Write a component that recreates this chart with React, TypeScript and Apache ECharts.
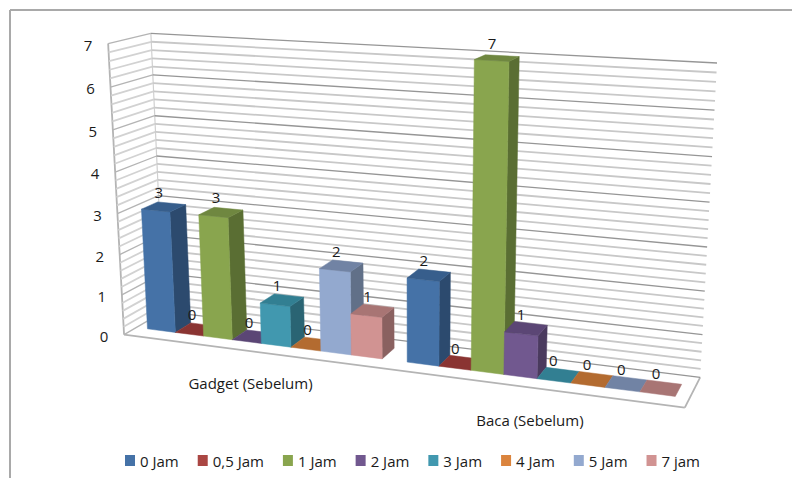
import React, { useEffect, useRef } from "react";
import * as echarts from "echarts";

const categories = ["Gadget (Sebelum)", "Baca (Sebelum)"];
const seriesNames = ["0 Jam", "0,5 Jam", "1 Jam", "2 Jam", "3 Jam", "4 Jam", "5 Jam", "7 jam"];
const jam0 = [3, 2];
const jam05 = [0, 0];
const jam1 = [3, 7];
const jam2 = [0, 1];
const jam3 = [1, 0];
const jam4 = [0, 0];
const jam5 = [2, 0];
const jam7 = [1, 0];
const seriesValues = [jam0, jam05, jam1, jam2, jam3, jam4, jam5, jam7];
const tickLabels = ["0", "1", "2", "3", "4", "5", "6", "7"];

const frontColors = ["#4572A7", "#AA4643", "#89A54E", "#71588F", "#4198AF", "#DB843D", "#93A9CF", "#D19392"];
const sideColors = ["#2C4A6E", "#70302E", "#5A6E33", "#4A3A5E", "#2A6473", "#915828", "#617088", "#8A6160"];
const topColors = ["#375E8C", "#8A3432", "#6F8740", "#5B4675", "#327F92", "#B36B30", "#7183A4", "#A87574"];

const FONT = "'Open Sans', Lato, sans-serif";
const GAP_BARS = 0.8; // gap between clusters, in bar widths
const BAR_FRONT = 0.3;
const BAR_BACK = 0.7;
const MINOR_PER_MAJOR = 5;

// Camera: corners of the unit box (x, value, depth) and where they land on the page.
const boxCorners: number[][] = [
  [0, 0, 0, 124, 334],
  [1, 0, 0, 685, 408],
  [0, 0, 1, 164, 312],
  [1, 0, 1, 700, 377],
  [0, 1, 0, 108, 44],
  [0, 1, 1, 151, 33],
  [1, 1, 1, 717, 63],
];

function solveCamera(): number[] {
  const rows: number[][] = [];
  const rhs: number[] = [];
  for (const [x, y, z, u, v] of boxCorners) {
    rows.push([x, y, z, 1, 0, 0, 0, 0, -u * x, -u * y, -u * z]);
    rhs.push(u);
    rows.push([0, 0, 0, 0, x, y, z, 1, -v * x, -v * y, -v * z]);
    rhs.push(v);
  }
  const n = 11;
  const m: number[][] = [];
  for (let i = 0; i < n; i++) {
    const row: number[] = [];
    for (let j = 0; j < n; j++) row.push(rows.reduce((s, r) => s + r[i] * r[j], 0));
    row.push(rows.reduce((s, r, k) => s + r[i] * rhs[k], 0));
    m.push(row);
  }
  for (let c = 0; c < n; c++) {
    let p = c;
    for (let r = c + 1; r < n; r++) if (Math.abs(m[r][c]) > Math.abs(m[p][c])) p = r;
    [m[c], m[p]] = [m[p], m[c]];
    for (let r = 0; r < n; r++) {
      if (r === c) continue;
      const f = m[r][c] / m[c][c];
      for (let k = c; k <= n; k++) m[r][k] -= f * m[c][k];
    }
  }
  return m.map((r, i) => r[n] / r[i]);
}

const cam = solveCamera();
function project(x: number, y: number, z: number): [number, number] {
  const w = cam[8] * x + cam[9] * y + cam[10] * z + 1;
  return [
    (cam[0] * x + cam[1] * y + cam[2] * z + cam[3]) / w,
    (cam[4] * x + cam[5] * y + cam[6] * z + cam[7]) / w,
  ];
}

const poly = (pts: [number, number][], fill: string) => ({
  type: "polygon",
  shape: { points: pts },
  style: { fill, stroke: fill, lineWidth: 0.5 },
});
const seg = (a: [number, number], b: [number, number], stroke: string, lineWidth: number) => ({
  type: "line",
  shape: { x1: a[0], y1: a[1], x2: b[0], y2: b[1] },
  style: { stroke, lineWidth },
});
const label = (text: string, x: number, y: number) => ({
  type: "text",
  z2: 50,
  style: { text, x, y, fill: "#1a1a1a", font: `15px ${FONT}`, align: "center", verticalAlign: "middle" },
});

// Normalised height of a value on the hidden cartesian grid.
function heightOf(api: any, params: any, value: number) {
  const c = params.coordSys;
  return (c.y + c.height - api.coord([0, value])[1]) / c.height;
}

function renderBar(index: number) {
  return (params: any, api: any) => {
    const c = params.coordSys;
    const band = api.size([1, 0])[0];
    const barW = band / (seriesNames.length + GAP_BARS);
    const value = api.value(1);
    const cx = api.coord([api.value(0), 0])[0];
    const x0 = (cx + (index - seriesNames.length / 2) * barW - c.x) / c.width;
    const x1 = x0 + barW / c.width;
    const h = heightOf(api, params, value);
    const children: any[] = [];
    if (value > 0) {
      children.push(
        poly(
          [project(x1, 0, BAR_FRONT), project(x1, 0, BAR_BACK), project(x1, h, BAR_BACK), project(x1, h, BAR_FRONT)],
          sideColors[index],
        ),
        poly(
          [project(x0, 0, BAR_FRONT), project(x1, 0, BAR_FRONT), project(x1, h, BAR_FRONT), project(x0, h, BAR_FRONT)],
          frontColors[index],
        ),
      );
    }
    children.push(
      poly(
        [project(x0, h, BAR_FRONT), project(x1, h, BAR_FRONT), project(x1, h, BAR_BACK), project(x0, h, BAR_BACK)],
        topColors[index],
      ),
    );
    const [lx, ly] = project((x0 + x1) / 2, h, (BAR_FRONT + BAR_BACK) / 2);
    children.push(label(String(value), lx - 5, ly - 15));
    return { type: "group", children };
  };
}

// One entry per gridline on the value axis, every fifth one heavier.
const gridValues: number[] = [];
for (let i = 0; i <= (tickLabels.length - 1) * MINOR_PER_MAJOR; i++) gridValues.push(i / MINOR_PER_MAJOR);

function renderGridline(params: any, api: any) {
  const value = api.value(1);
  const h = heightOf(api, params, value);
  const major = Number.isInteger(value);
  const stroke = major ? "#969696" : "#c8c8c8";
  const width = major ? 1.3 : 1.8;
  const children: any[] = [
    seg(project(0, h, 0), project(0, h, 1), major ? "#b4b4b4" : "#d2d2d2", width),
    seg(project(0, h, 1), project(1, h, 1), stroke, width),
  ];
  if (major) {
    const [x, y] = project(0, h, 0);
    children.push(label(tickLabels[value], x - 20, y + 1));
  }
  return { type: "group", children };
}

function renderBox(params: any, api: any) {
  const edge = "#b4b4b4";
  return {
    type: "group",
    children: [
      poly([project(0, 0, 0), project(1, 0, 0), project(1, 0, 1), project(0, 0, 1)], "#ffffff"),
      seg(project(0, 0, 0), project(1, 0, 0), edge, 1.8),
      seg(project(1, 0, 0), project(1, 0, 1), edge, 1.8),
      seg(project(0, 0, 0), project(0, 1, 0), edge, 1.8),
      seg(project(0, 0, 1), project(0, 1, 1), "#d0d0d0", 1.2),
    ],
  };
}

function renderCategory(params: any, api: any) {
  const c = params.coordSys;
  const x = (api.coord([api.value(0), 0])[0] - c.x) / c.width;
  const [px, py] = project(x, 0, 0);
  return label(categories[api.value(0)], px, py + 32);
}

export default function App() {
  const ref = useRef<HTMLDivElement>(null);
  useEffect(() => {
    const chart = echarts.init(ref.current!, undefined, { renderer: "svg" });
    chart.setOption({
      animation: false,
      backgroundColor: "#ffffff",
      grid: { left: 100, top: 40, width: 600, height: 300 },
      xAxis: { type: "category", data: categories, show: false },
      yAxis: { type: "value", min: 0, max: 7, interval: 1, show: false },
      legend: {
        data: seriesNames,
        left: 125,
        top: 453,
        padding: 0,
        icon: "rect",
        itemWidth: 10,
        itemHeight: 11,
        itemGap: 19,
        textStyle: { fontFamily: FONT, fontSize: 15, color: "#1a1a1a", padding: [0, 0, 0, 0] },
      },
      graphic: [
        { type: "line", silent: true, shape: { x1: 10, y1: 10, x2: 792, y2: 10 }, style: { stroke: "#a9a9a9", lineWidth: 2 } },
        { type: "line", silent: true, shape: { x1: 10, y1: 10, x2: 10, y2: 478 }, style: { stroke: "#a9a9a9", lineWidth: 2 } },
      ],
      series: [
        { type: "custom", name: "box", silent: true, clip: false, z: 1, data: [[0, 0]], renderItem: renderBox },
        {
          type: "custom",
          name: "grid",
          silent: true,
          clip: false,
          z: 1,
          data: gridValues.map((v) => [0, v]),
          renderItem: renderGridline,
        },
        {
          type: "custom",
          name: "kategori",
          silent: true,
          clip: false,
          z: 1,
          data: categories.map((_, i) => [i, 0]),
          renderItem: renderCategory,
        },
        ...seriesNames.map((name, i) => ({
          type: "custom",
          name,
          clip: false,
          z: 2 + i,
          itemStyle: { color: frontColors[i] },
          encode: { x: 0, y: 1 },
          data: seriesValues[i].map((v, c) => [c, v]),
          renderItem: renderBar(i),
        })),
      ],
    });
    return () => chart.dispose();
  }, []);
  return <div ref={ref} style={{ position: "absolute", left: 0, top: 0, width: 792, height: 478 }} />;
}
